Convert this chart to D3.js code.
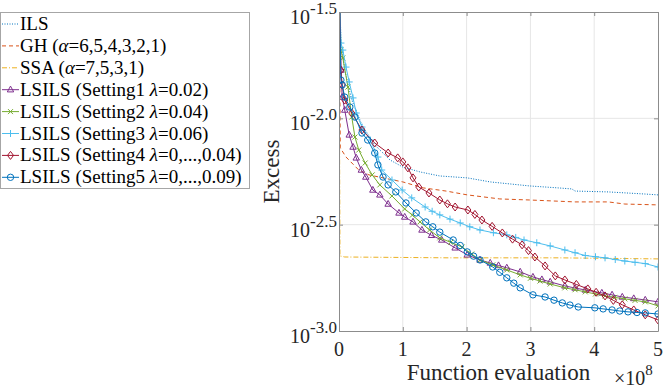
<!DOCTYPE html>
<html lang="en">
<head>
<meta charset="UTF-8">
<title>Excess vs function evaluation</title>
<script src="https://cdn.jsdelivr.net/npm/d3@7"></script>
<style>
  body { margin: 0; background: #fff; }
  svg { display: block; }
  svg text { font-family: "Liberation Serif", "DejaVu Serif", serif; }
</style>
</head>
<body>
<svg id="chart" width="664" height="388"></svg>
<script>
// x in units of 1e8 function evaluations, y = log10(excess)
const xTicks = [0, 1, 2, 3, 4, 5];
const yTicks = [-3.0, -2.5, -2.0, -1.5];

const ils = [[0,-1.3],[0.03,-1.632],[0.09,-1.773],[0.2,-1.914],[0.36,-2.031],[0.56,-2.125],[0.8,-2.196],[1.0,-2.229],[1.27,-2.252],[1.58,-2.271],[2.01,-2.28],[2.37,-2.299],[2.99,-2.318],[3.43,-2.327],[3.65,-2.332],[3.7,-2.342],[4.22,-2.346],[4.8,-2.356],[5.0,-2.36]];
const gh = [[0,-1.3],[0.02,-2.139],[0.11,-2.182],[0.31,-2.243],[0.47,-2.266],[0.69,-2.28],[1.0,-2.299],[1.32,-2.327],[1.68,-2.342],[2.01,-2.36],[2.52,-2.379],[2.99,-2.384],[3.7,-2.393],[4.22,-2.393],[4.48,-2.403],[5.0,-2.407]];
const ssa = [[0,-1.3],[0.015,-2.647],[0.09,-2.652],[1.74,-2.656],[3.46,-2.656],[5.0,-2.661]];
const lsils1 = [[0,-1.3],[0.03,-1.773],[0.05,-1.9],[0.09,-1.961],[0.16,-2.078],[0.22,-2.135],[0.27,-2.186],[0.35,-2.243],[0.42,-2.276],[0.53,-2.337],[0.64,-2.36],[0.77,-2.403],[0.94,-2.445],[1.03,-2.464],[1.16,-2.487],[1.3,-2.525],[1.45,-2.55],[1.61,-2.572],[1.82,-2.609],[2.01,-2.642],[2.21,-2.666],[2.37,-2.68],[2.5,-2.692],[2.63,-2.703],[2.84,-2.722],[3.04,-2.746],[3.18,-2.758],[3.31,-2.769],[3.54,-2.788],[3.7,-2.798],[3.86,-2.807],[4.12,-2.821],[4.28,-2.83],[4.44,-2.84],[4.62,-2.847],[4.8,-2.854],[5.0,-2.863]];
const lsils2 = [[0,-1.3],[0.03,-1.679],[0.06,-1.716],[0.14,-1.853],[0.2,-1.994],[0.25,-2.088],[0.31,-2.149],[0.41,-2.21],[0.52,-2.266],[0.64,-2.313],[0.83,-2.365],[1.03,-2.426],[1.15,-2.455],[1.27,-2.487],[1.42,-2.525],[1.58,-2.562],[1.75,-2.583],[1.93,-2.605],[2.08,-2.638],[2.21,-2.666],[2.41,-2.689],[2.63,-2.713],[2.84,-2.736],[3.0,-2.752],[3.15,-2.765],[3.31,-2.779],[3.54,-2.797],[3.7,-2.806],[3.86,-2.816],[4.02,-2.826],[4.17,-2.835],[4.32,-2.842],[4.48,-2.849],[4.64,-2.856],[4.8,-2.863],[5.0,-2.882]];
const lsils3 = [[0,-1.3],[0.03,-1.646],[0.06,-1.679],[0.11,-1.759],[0.16,-1.829],[0.22,-1.904],[0.27,-1.975],[0.36,-2.041],[0.49,-2.102],[0.61,-2.182],[0.67,-2.243],[0.83,-2.29],[0.99,-2.337],[1.14,-2.374],[1.35,-2.417],[1.46,-2.437],[1.58,-2.454],[1.74,-2.474],[1.9,-2.492],[2.05,-2.51],[2.21,-2.525],[2.42,-2.538],[2.63,-2.548],[2.77,-2.56],[2.9,-2.572],[3.1,-2.585],[3.31,-2.6],[3.54,-2.619],[3.7,-2.632],[3.86,-2.645],[4.02,-2.651],[4.17,-2.656],[4.33,-2.664],[4.48,-2.671],[4.64,-2.677],[4.8,-2.683],[5.0,-2.699]];
const lsils4 = [[0,-1.3],[0.03,-1.773],[0.05,-1.843],[0.09,-1.914],[0.2,-1.975],[0.36,-2.055],[0.56,-2.116],[0.77,-2.163],[0.92,-2.186],[1.0,-2.205],[1.08,-2.233],[1.16,-2.28],[1.25,-2.323],[1.41,-2.351],[1.58,-2.384],[1.7,-2.402],[1.82,-2.417],[2.02,-2.431],[2.13,-2.452],[2.24,-2.478],[2.4,-2.508],[2.56,-2.539],[2.72,-2.568],[2.87,-2.595],[2.97,-2.622],[3.07,-2.652],[3.23,-2.694],[3.39,-2.741],[3.54,-2.76],[3.72,-2.781],[3.9,-2.802],[4.03,-2.818],[4.17,-2.835],[4.3,-2.856],[4.44,-2.877],[4.62,-2.901],[4.8,-2.924],[5.0,-2.948]];
const lsils5 = [[0,-1.3],[0.03,-1.82],[0.05,-1.843],[0.09,-1.9],[0.17,-1.947],[0.25,-1.994],[0.36,-2.069],[0.45,-2.102],[0.56,-2.163],[0.61,-2.219],[0.69,-2.276],[0.77,-2.313],[0.89,-2.346],[1.05,-2.398],[1.21,-2.445],[1.36,-2.487],[1.47,-2.51],[1.58,-2.535],[1.79,-2.572],[1.9,-2.598],[2.01,-2.628],[2.11,-2.648],[2.21,-2.666],[2.41,-2.699],[2.52,-2.724],[2.63,-2.75],[2.74,-2.775],[2.84,-2.797],[3.04,-2.83],[3.23,-2.84],[3.37,-2.855],[3.5,-2.868],[3.62,-2.878],[3.75,-2.887],[4.01,-2.891],[4.14,-2.896],[4.28,-2.901],[4.4,-2.906],[4.53,-2.91],[4.67,-2.913],[4.8,-2.915],[5.0,-2.92]];

const series = [
  { label: "ILS", data: ils, color: "#0072BD", dash: "1,1.5" },
  { label: "GH (α=6,5,4,3,2,1)", data: gh, color: "#D95319", dash: "4,3" },
  { label: "SSA (α=7,5,3,1)", data: ssa, color: "#EDB120", dash: "5,2,1,2" },
  { label: "LSILS (Setting1 λ=0.02)", data: lsils1, color: "#7E2F8E", marker: "triangle" },
  { label: "LSILS (Setting2 λ=0.04)", data: lsils2, color: "#77AC30", marker: "x" },
  { label: "LSILS (Setting3 λ=0.06)", data: lsils3, color: "#4DBEEE", marker: "plus" },
  { label: "LSILS (Setting4 λ=0,...,0.04)", data: lsils4, color: "#A2142F", marker: "diamond" },
  { label: "LSILS (Setting5 λ=0,...,0.09)", data: lsils5, color: "#0072BD", marker: "circle" }
];

const markerPaths = {
  triangle: "M0,-3.6L3.2,2.2L-3.2,2.2Z",
  x: "M-2.5,-2.5L2.5,2.5M-2.5,2.5L2.5,-2.5",
  plus: "M-3.5,0H3.5M0,-3.5V3.5",
  diamond: "M0,-4L3,0L0,4L-3,0Z"
};

const font = "Liberation Serif, DejaVu Serif, serif";
const svg = d3.select("#chart");
svg.append("rect").attr("width", 664).attr("height", 388).attr("fill", "#fff");

const margin = { left: 339, top: 12, right: 6, bottom: 57 };
const width = 664 - margin.left - margin.right;
const height = 388 - margin.top - margin.bottom;

const x = d3.scaleLinear().domain([0, 5]).range([0, width]);
const y = d3.scaleLinear().domain([-3, -1.5]).range([height, 0]);

const g = svg.append("g").attr("transform", "translate(" + margin.left + "," + margin.top + ")");

g.append("clipPath").attr("id", "plot-clip")
  .append("rect").attr("width", width).attr("height", height);

// grid
g.append("g").selectAll("line").data(xTicks.slice(1, -1)).join("line")
  .attr("x1", d => x(d)).attr("x2", d => x(d)).attr("y1", 0).attr("y2", height)
  .attr("stroke", "#e6e6e6");
g.append("g").selectAll("line").data(yTicks.slice(1, -1)).join("line")
  .attr("y1", d => y(d)).attr("y2", d => y(d)).attr("x1", 0).attr("x2", width)
  .attr("stroke", "#e6e6e6");

// curves
const line = d3.line().x(d => x(d[0])).y(d => y(d[1]));
const plot = g.append("g").attr("clip-path", "url(#plot-clip)");

function drawMarker(sel, type, color) {
  if (type === "circle") {
    sel.append("circle").attr("r", 3.2).attr("fill", "none").attr("stroke", color).attr("stroke-width", 1);
  } else {
    sel.append("path").attr("d", markerPaths[type]).attr("fill", "none").attr("stroke", color).attr("stroke-width", 1);
  }
}

series.forEach(s => {
  plot.append("path").datum(s.data)
    .attr("d", line).attr("fill", "none")
    .attr("stroke", s.color).attr("stroke-width", 1)
    .attr("stroke-dasharray", s.dash || null);
  if (s.marker) {
    plot.append("g").selectAll("g").data(s.data).join("g")
      .attr("transform", d => "translate(" + x(d[0]) + "," + y(d[1]) + ")")
      .each(function() { drawMarker(d3.select(this), s.marker, s.color); });
  }
});

// axes box with inward ticks
const axisColor = "#8c8c8c";
function styleAxis(sel) {
  sel.selectAll("path").attr("stroke", axisColor);
  sel.selectAll("line").attr("stroke", axisColor);
  sel.selectAll("text").remove();
}
g.append("g").attr("transform", "translate(0," + height + ")")
  .call(d3.axisBottom(x).tickValues(xTicks).tickSize(-4).tickSizeOuter(0)).call(styleAxis);
g.append("g")
  .call(d3.axisTop(x).tickValues(xTicks).tickSize(-4).tickSizeOuter(0)).call(styleAxis);
g.append("g")
  .call(d3.axisLeft(y).tickValues(yTicks).tickSize(-4).tickSizeOuter(0)).call(styleAxis);
g.append("g").attr("transform", "translate(" + width + ",0)")
  .call(d3.axisRight(y).tickValues(yTicks).tickSize(-4).tickSizeOuter(0)).call(styleAxis);

// tick labels
g.append("g").selectAll("text").data(xTicks).join("text")
  .attr("x", d => x(d)).attr("y", height + 25)
  .attr("text-anchor", "middle").attr("font-family", font).attr("font-size", 20).attr("fill", "#262626")
  .text(d => d);

const yLab = g.append("g").selectAll("text").data(yTicks).join("text")
  .attr("x", -2).attr("y", d => y(d) + 12)
  .attr("text-anchor", "end").attr("font-family", font).attr("font-size", 20).attr("fill", "#262626");
yLab.append("tspan").text("10");
yLab.append("tspan").attr("dy", -10).attr("font-size", 17).text(d => d.toFixed(1));

// axis titles
g.append("text").attr("x", width / 2).attr("y", height + 49)
  .attr("text-anchor", "middle").attr("font-family", font).attr("font-size", 23).attr("fill", "#262626")
  .text("Function evaluation");
const mult = g.append("text").attr("x", 275).attr("y", height + 54)
  .attr("font-family", font).attr("font-size", 20).attr("fill", "#262626");
mult.append("tspan").text("×10");
mult.append("tspan").attr("dy", -10).attr("font-size", 15).text("8");

svg.append("text")
  .attr("transform", "translate(279," + (margin.top + height / 2) + ") rotate(-90)")
  .attr("text-anchor", "middle").attr("font-family", font).attr("font-size", 23).attr("fill", "#262626")
  .text("Excess");

// legend
const legend = svg.append("g");
legend.append("rect").attr("x", 0.5).attr("y", 12.5).attr("width", 249).attr("height", 176)
  .attr("fill", "#fff").attr("stroke", "#a6a6a6");

series.forEach((s, i) => {
  const by = 30 + i * 21.9;
  const ly = by - 6;
  legend.append("line").attr("x1", 2).attr("x2", 19).attr("y1", ly).attr("y2", ly)
    .attr("stroke", s.color).attr("stroke-width", 1).attr("stroke-dasharray", s.dash || null);
  if (s.marker) {
    const m = legend.append("g").attr("transform", "translate(10.5," + ly + ")");
    drawMarker(m, s.marker, s.color);
  }
  const t = legend.append("text").attr("x", 20).attr("y", by)
    .attr("font-family", font).attr("font-size", 19).attr("fill", "#000");
  s.label.split(/([αλ])/).forEach(part => {
    if (!part) return;
    const sp = t.append("tspan").text(part);
    if (part === "α" || part === "λ") sp.attr("font-style", "italic");
  });
});
</script>
</body>
</html>
